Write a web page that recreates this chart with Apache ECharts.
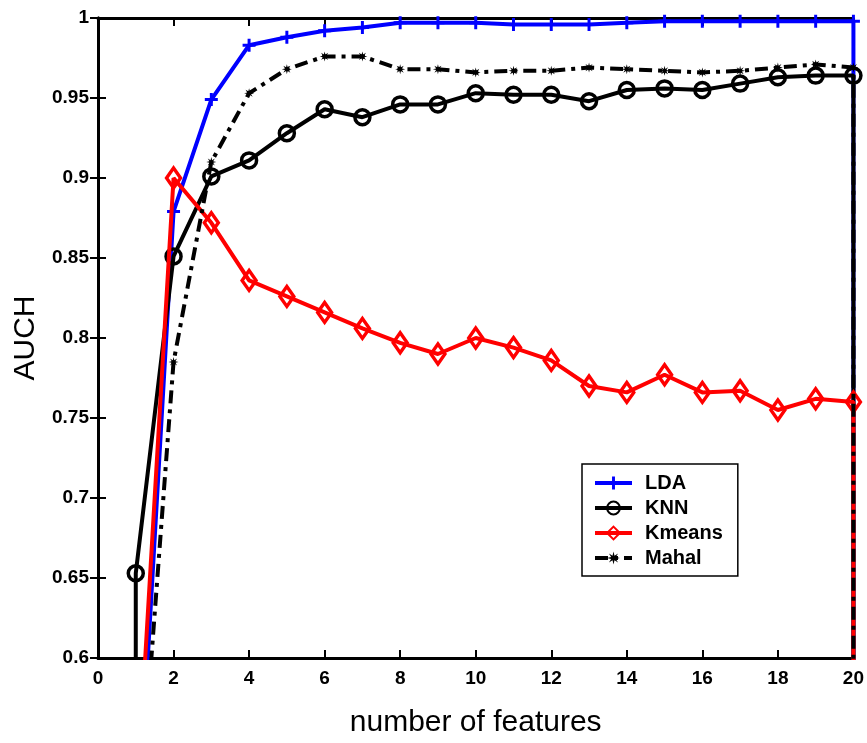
<!DOCTYPE html>
<html>
<head>
<meta charset="utf-8">
<title>AUCH</title>
<script src="https://cdn.jsdelivr.net/npm/echarts@6/dist/echarts.min.js"></script>
<style>
html, body { margin: 0; padding: 0; background: #fff; }
#main { width: 867px; height: 743px; }
</style>
</head>
<body>
<div id="main"></div>
<script>
// number of features (x axis)
var features = [1, 2, 3, 4, 5, 6, 7, 8, 9, 10, 11, 12, 13, 14, 15, 16, 17, 18, 19, 20];

// AUCH for each classifier, one value per feature count
var ldaValues = [0.47, 0.879, 0.949, 0.983, 0.988, 0.992, 0.994, 0.997, 0.997, 0.997,
	0.996, 0.996, 0.996, 0.997, 0.998, 0.998, 0.998, 0.998, 0.998, 0.998];
var knnValues = [0.653, 0.851, 0.901, 0.911, 0.928, 0.943, 0.938, 0.946, 0.946, 0.953,
	0.952, 0.952, 0.948, 0.955, 0.956, 0.955, 0.959, 0.963, 0.964, 0.964];
var kmeansValues = [0.50, 0.900, 0.872, 0.836, 0.826, 0.816, 0.806, 0.797, 0.790, 0.800,
	0.794, 0.786, 0.770, 0.766, 0.777, 0.766, 0.767, 0.755, 0.762, 0.760];
var mahalValues = [0.47, 0.785, 0.910, 0.953, 0.968, 0.976, 0.976, 0.968, 0.968, 0.966,
	0.967, 0.967, 0.969, 0.968, 0.967, 0.966, 0.967, 0.969, 0.971, 0.969];

// the curves are closed off below the axis at both ends
var knnStart = [1, 0.5];
var curveEnd = [20, 0.5];

var yTicks = [0.6, 0.65, 0.7, 0.75, 0.8, 0.85, 0.9, 0.95, 1];

var legends = ['LDA', 'KNN', 'Kmeans', 'Mahal'];

var plusSymbol = 'path://M-1.6,-7L1.6,-7L1.6,-1.6L7,-1.6L7,1.6L1.6,1.6L1.6,7L-1.6,7L-1.6,1.6L-7,1.6L-7,-1.6L-1.6,-1.6Z';
var starSymbol = 'path://M5,0L1.85,0.77L3.54,3.54L0.77,1.85L0,5L-0.77,1.85L-3.54,3.54L-1.85,0.77L-5,0L-1.85,-0.77L-3.54,-3.54L-0.77,-1.85L0,-5L0.77,-1.85L3.54,-3.54L1.85,-0.77Z';

function toPoints(values, head) {
	var pts = [];
	if (head) {
		pts.push({ value: head, symbol: 'none' });
	}
	for (var i = 0; i < features.length; i++) {
		pts.push([features[i], values[i]]);
	}
	pts.push({ value: curveEnd, symbol: 'none' });
	return pts;
}

var tickFont = {
	color: '#000',
	fontSize: 19,
	fontWeight: 'bold',
	fontFamily: 'Liberation Sans, Arial, sans-serif'
};
var nameFont = {
	color: '#000',
	fontSize: 30,
	fontFamily: 'Liberation Sans, Arial, sans-serif'
};
var frameLine = { show: true, lineStyle: { color: '#000', width: 3 } };
var frameTick = { show: true, inside: true, length: 8, lineStyle: { color: '#000', width: 2 } };

var option = {
	animation: false,
	backgroundColor: '#fff',
	grid: { left: 98, right: 12, top: 18, bottom: 83 },
	legend: {
		data: legends,
		orient: 'vertical',
		left: 582,
		top: 464,
		padding: [9, 15, 8, 11],
		itemGap: 5,
		itemWidth: 37,
		itemHeight: 16,
		backgroundColor: '#fff',
		borderColor: '#000',
		borderWidth: 1.5,
		borderRadius: 0,
		lineStyle: { width: 4 },
		textStyle: {
			color: '#000',
			fontSize: 20,
			fontWeight: 'bold',
			fontFamily: 'Liberation Sans, Arial, sans-serif',
			padding: [0, 0, 0, 8]
		}
	},
	xAxis: [{
		type: 'value',
		min: 0,
		max: 20,
		interval: 2,
		position: 'bottom',
		name: 'number of features',
		nameLocation: 'middle',
		nameGap: 50,
		nameTextStyle: nameFont,
		axisLine: frameLine,
		axisTick: frameTick,
		axisLabel: Object.assign({ margin: 11 }, tickFont),
		splitLine: { show: false }
	}, {
		type: 'value',
		min: 0,
		max: 20,
		interval: 2,
		position: 'top',
		axisLine: frameLine,
		axisTick: frameTick,
		axisLabel: { show: false },
		splitLine: { show: false }
	}],
	yAxis: [{
		type: 'value',
		min: yTicks[0],
		max: yTicks[yTicks.length - 1],
		interval: 0.05,
		position: 'left',
		name: 'AUCH',
		nameLocation: 'middle',
		nameGap: 55,
		nameTextStyle: nameFont,
		axisLine: frameLine,
		axisTick: frameTick,
		axisLabel: Object.assign({
			margin: 9,
			formatter: function (v) {
				return String(+v.toFixed(2));
			}
		}, tickFont),
		splitLine: { show: false }
	}, {
		type: 'value',
		min: yTicks[0],
		max: yTicks[yTicks.length - 1],
		interval: 0.05,
		position: 'right',
		axisLine: frameLine,
		axisTick: frameTick,
		axisLabel: { show: false },
		splitLine: { show: false }
	}],
	series: [{
		name: 'LDA',
		type: 'line',
		data: toPoints(ldaValues),
		symbol: plusSymbol,
		symbolSize: 13,
		lineStyle: { color: '#0000ff', width: 4 },
		itemStyle: { color: '#0000ff' },
		z: 2
	}, {
		name: 'KNN',
		type: 'line',
		data: toPoints(knnValues, knnStart),
		symbol: 'circle',
		symbolSize: 15,
		lineStyle: { color: '#000', width: 4 },
		itemStyle: { color: 'rgba(255,255,255,0)', borderColor: '#000', borderWidth: 3.5 },
		z: 3
	}, {
		name: 'Kmeans',
		type: 'line',
		data: toPoints(kmeansValues),
		symbol: 'diamond',
		symbolSize: [14, 20],
		lineStyle: { color: '#ff0000', width: 4 },
		itemStyle: { color: 'rgba(255,255,255,0)', borderColor: '#ff0000', borderWidth: 3.5 },
		z: 4
	}, {
		name: 'Mahal',
		type: 'line',
		data: toPoints(mahalValues),
		symbol: starSymbol,
		symbolSize: 10,
		lineStyle: { color: '#000', width: 4, type: [13, 6, 4, 6] },
		itemStyle: { color: '#000' },
		z: 5
	}]
};

var myChart = echarts.init(document.getElementById('main'));
myChart.setOption(option);
</script>
</body>
</html>
